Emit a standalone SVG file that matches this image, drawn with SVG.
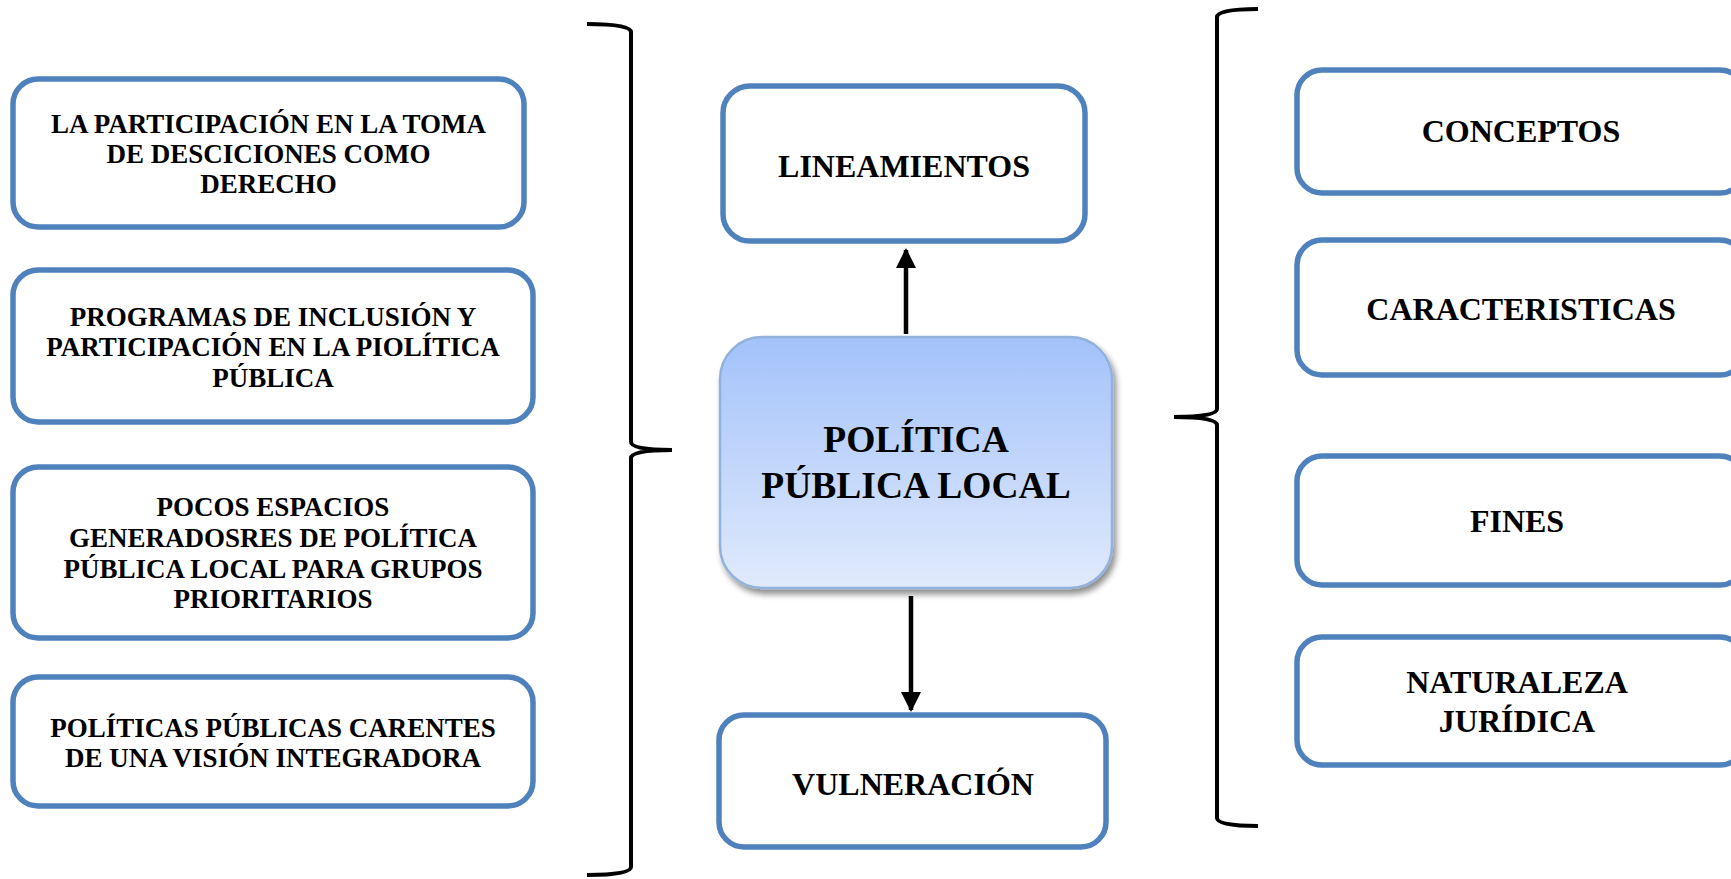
<svg xmlns="http://www.w3.org/2000/svg" width="1731" height="879" viewBox="0 0 1731 879">
<defs>
<linearGradient id="cg" x1="0" y1="0" x2="0" y2="1">
<stop offset="0" stop-color="#A3C2FA"/>
<stop offset="1" stop-color="#E0EAFC"/>
</linearGradient>
<filter id="sh" x="-10%" y="-10%" width="125%" height="125%">
<feGaussianBlur in="SourceAlpha" stdDeviation="3"/>
<feOffset dx="3" dy="5" result="b"/>
<feComponentTransfer><feFuncA type="linear" slope="0.45"/></feComponentTransfer>
<feMerge><feMergeNode/><feMergeNode in="SourceGraphic"/></feMerge>
</filter>
<marker id="ah" viewBox="0 0 10 10" refX="9" refY="5" markerWidth="4.5" markerHeight="4.5" orient="auto" markerUnits="strokeWidth">
<path d="M0,0 L10,5 L0,10 Z" fill="#000"/>
</marker>
</defs>
<style>
.box{fill:#fff;stroke:#4F81BD;stroke-width:5.5}
.t{font-family:"Liberation Serif","Times New Roman",serif;font-weight:bold;fill:#000;text-anchor:middle}
.s{font-size:27px}
.m{font-size:32px}
.l{font-size:37.5px}
.br{fill:none;stroke:#000;stroke-width:4}
.ar{stroke:#000;stroke-width:4.5;fill:none}
</style>
<rect width="1731" height="879" fill="#fff"/>
<g id="n-participacion">
<rect class="box" x="13" y="79" width="511" height="148" rx="25"/>
<text class="t s"><tspan x="268.5" y="133">LA PARTICIPACIÓN EN LA TOMA</tspan><tspan x="268.5" y="163">DE DESCICIONES COMO</tspan><tspan x="268.5" y="193">DERECHO</tspan></text>
</g>
<g id="n-programas">
<rect class="box" x="13" y="270" width="520" height="152" rx="25"/>
<text class="t s"><tspan x="273" y="326">PROGRAMAS DE INCLUSIÓN Y</tspan><tspan x="273" y="356">PARTICIPACIÓN EN LA PIOLÍTICA</tspan><tspan x="273" y="387">PÚBLICA</tspan></text>
</g>
<g id="n-pocos">
<rect class="box" x="13" y="467" width="520" height="171" rx="25"/>
<text class="t s"><tspan x="273" y="516">POCOS ESPACIOS</tspan><tspan x="273" y="547">GENERADOSRES DE POLÍTICA</tspan><tspan x="273" y="578">PÚBLICA LOCAL PARA GRUPOS</tspan><tspan x="273" y="608">PRIORITARIOS</tspan></text>
</g>
<g id="n-politicas">
<rect class="box" x="13" y="677" width="520" height="129" rx="25"/>
<text class="t s"><tspan x="273" y="737">POLÍTICAS PÚBLICAS CARENTES</tspan><tspan x="273" y="767">DE UNA VISIÓN INTEGRADORA</tspan></text>
</g>
<g id="n-lineamientos">
<rect class="box" x="723" y="86" width="362" height="155" rx="27"/>
<text class="t m" x="904" y="177">LINEAMIENTOS</text>
</g>
<g id="n-central">
<rect x="720" y="337" width="392" height="251" rx="42" fill="url(#cg)" stroke="#92B1DB" stroke-width="2.5" filter="url(#sh)"/>
<text class="t l"><tspan x="916" y="452">POLÍTICA</tspan><tspan x="916" y="498">PÚBLICA LOCAL</tspan></text>
</g>
<g id="n-vulneracion">
<rect class="box" x="719" y="715" width="387" height="132" rx="25"/>
<text class="t m" x="913" y="795">VULNERACIÓN</text>
</g>
<g id="n-conceptos">
<rect class="box" x="1297" y="70" width="448" height="123" rx="25"/>
<text class="t m" x="1521" y="142">CONCEPTOS</text>
</g>
<g id="n-caracteristicas">
<rect class="box" x="1297" y="240" width="448" height="135" rx="25"/>
<text class="t m" x="1521" y="320">CARACTERISTICAS</text>
</g>
<g id="n-fines">
<rect class="box" x="1297" y="456" width="448" height="129" rx="25"/>
<text class="t m" x="1517" y="532">FINES</text>
</g>
<g id="n-naturaleza">
<rect class="box" x="1297" y="637" width="448" height="128" rx="25"/>
<text class="t m"><tspan x="1517" y="693">NATURALEZA</tspan><tspan x="1517" y="732">JURÍDICA</tspan></text>
</g>
<g id="connectors">
<line class="ar" x1="906" y1="334" x2="906" y2="250" marker-end="url(#ah)"/>
<line class="ar" x1="911" y1="596" x2="911" y2="710" marker-end="url(#ah)"/>
<path class="br" d="M587,24 Q631,24 631,32 L631,442 Q631,450 672,450 Q631,450 631,458 L631,867 Q631,875 587,875"/>
<path class="br" d="M1258,9 Q1217,9 1217,17 L1217,409 Q1217,417 1174,417 Q1217,417 1217,425 L1217,818 Q1217,826 1258,826"/>
</g>
</svg>
